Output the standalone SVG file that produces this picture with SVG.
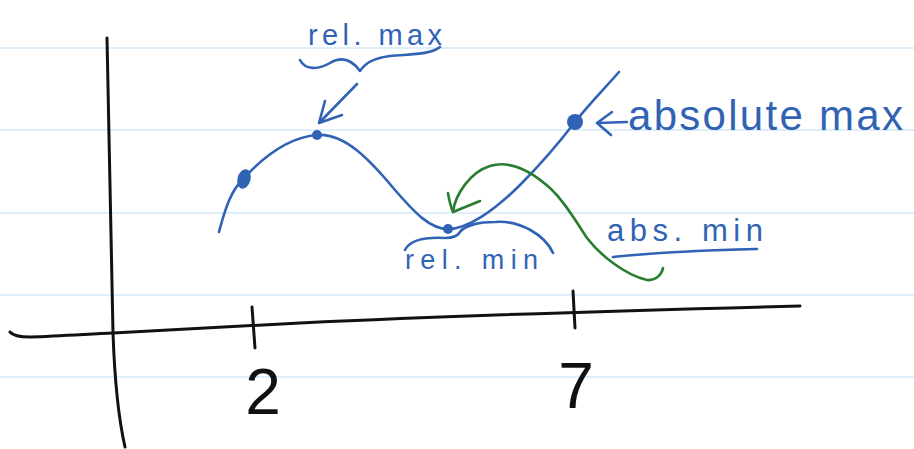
<svg xmlns="http://www.w3.org/2000/svg" width="914" height="449" viewBox="0 0 914 449">
<style>
.rule{stroke:#d3e9f8;stroke-width:1.5;fill:none}
.ink{stroke:#111;stroke-width:3;fill:none;stroke-linecap:round;stroke-linejoin:round}
.blue{stroke:#3163b5;stroke-width:2.6;fill:none;stroke-linecap:round;stroke-linejoin:round}
.green{stroke:#2a7d2e;stroke-width:2.6;fill:none;stroke-linecap:round;stroke-linejoin:round}
.bt{fill:#3163b5;font-family:"Liberation Sans",Arial,sans-serif}
.kt{fill:#111;font-family:"Liberation Sans",Arial,sans-serif;text-anchor:middle}
</style>
<rect width="914" height="449" fill="#fff"/>
<g id="ruled-lines">
<line class="rule" x1="0" y1="48" x2="914" y2="48"/>
<line class="rule" x1="0" y1="130" x2="914" y2="130"/>
<line class="rule" x1="0" y1="213" x2="914" y2="213"/>
<line class="rule" x1="0" y1="295" x2="914" y2="295"/>
<line class="rule" x1="0" y1="377" x2="914" y2="377"/>
</g>
<g id="axes">
<path class="ink" d="M107,38 C110,150 112,260 113,333 C115,390 120,425 125,447"/>
<path class="ink" d="M10,332 Q14,337 30,337 C60,336 90,334 113,333 L300,323 C450,316 600,311 800,306"/>
<path class="ink" d="M252,307 L255,348"/>
<path class="ink" d="M573,291 L575,328"/>
<text class="kt" x="263" y="414" font-size="64">2</text>
<text class="kt" x="576" y="408" font-size="64">7</text>
</g>
<g id="curve">
<path class="blue" d="M219,232 C226,205 232,190 243,179 C265,155 290,137 317,135 C345,133 370,160 395,190 C415,213 430,229 448,229 C468,229 495,210 520,185 C545,160 565,135 575,122 C590,103 605,88 619,72"/>
<ellipse cx="244" cy="179" rx="6.5" ry="10" transform="rotate(15 244 179)" fill="#3163b5"/>
<circle cx="317" cy="135" r="5" fill="#3163b5"/>
<circle cx="448" cy="229" r="5" fill="#3163b5"/>
<circle cx="575" cy="122" r="8" fill="#3163b5"/>
</g>
<g id="rel-max">
<text class="bt" x="308" y="45" font-size="29" textLength="134" lengthAdjust="spacing">rel. max</text>
<path class="blue" d="M300,60 C305,70 318,70 330,63 C342,56 352,60 360,71 C366,62 375,58 390,56 C410,54 430,55 440,47"/>
<path class="blue" d="M357,84 L319,123 M325,101 L319,123 L342,115"/>
</g>
<g id="abs-max">
<text class="bt" x="628" y="130" font-size="42" textLength="275" lengthAdjust="spacing">absolute max</text>
<path class="blue" d="M627,122 L597,123 M612,112 L597,123 L611,135"/>
</g>
<g id="rel-min">
<path class="blue" d="M405,250 C410,240 425,237 445,238 C452,238 457,237 460,232 C465,225 480,222 495,222 C520,220 545,235 553,253"/>
<text class="bt" x="405" y="269" font-size="27" textLength="133" lengthAdjust="spacing">rel. min</text>
</g>
<g id="abs-min">
<text class="bt" x="607" y="241" font-size="31" textLength="156" lengthAdjust="spacing">abs. min</text>
<path class="blue" d="M613,257 C660,252 710,250 757,249"/>
<path class="green" d="M453,212 C455,195 470,172 490,166 C510,160 530,170 550,188 C565,202 575,220 587,238 C600,255 625,275 647,280 C656,281 662,274 663,268"/>
<path class="green" d="M448,193 Q450,205 453,212 L480,201"/>
</g>
</svg>
